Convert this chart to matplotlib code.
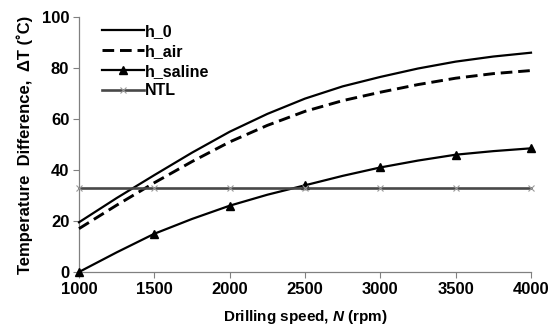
import numpy as np
import matplotlib
matplotlib.use("Agg")
import matplotlib.pyplot as plt

# values (every 250 rpm, markers every 500)
speed = [1000, 1250, 1500, 1750, 2000, 2250, 2500, 2750, 3000, 3250, 3500, 3750, 4000]
h_0 = [19.5, 29, 38, 46.8, 55, 62, 68, 72.8, 76.5, 79.8, 82.5, 84.5, 86]
h_air = [17, 26.2, 35, 43.3, 51, 57.5, 63, 67.2, 70.5, 73.5, 76, 77.8, 79]
h_saline = [0, 7.7, 15, 20.8, 26, 30.3, 34, 37.7, 41, 43.7, 46, 47.4, 48.5]
ntl = [33] * 13

x_ticks = [1000, 1500, 2000, 2500, 3000, 3500, 4000]
y_ticks = [0, 20, 40, 60, 80, 100]

plt.rcParams['font.family'] = ['Liberation Sans', 'DejaVu Sans']
plt.rcParams['font.weight'] = 'bold'
plt.rcParams['mathtext.fontset'] = 'custom'
plt.rcParams['mathtext.bfit'] = 'Liberation Sans:bold:italic'

fig = plt.figure(figsize=(5.52, 3.29), dpi=100)
ax = fig.add_axes([79 / 552, 1 - 272 / 329, (531 - 79) / 552, (272 - 17) / 329])

ax.plot(speed, h_0, color='black', lw=1.6, label='h_0')
ax.plot(speed, h_air, color='black', lw=2.1, ls=(0, (4, 2)), label='h_air')
ax.plot(speed, h_saline, color='black', lw=1.6, marker='^', ms=6,
        markevery=2, label='h_saline')
ax.plot(speed, ntl, color='#484848', lw=1.9, marker='x', ms=5, mec='#999999',
        mew=0.8, markevery=2, label='NTL')

ax.set_xlim(1000, 4000)
ax.set_ylim(0, 100)
ax.set_xticks(x_ticks)
ax.set_yticks(y_ticks)
ax.tick_params(axis='both', direction='out', length=4, color='#808080',
               labelsize=12, pad=3)
for lab in ax.get_xticklabels() + ax.get_yticklabels():
    lab.set_fontweight('bold')

for side in ['top', 'right']:
    ax.spines[side].set_visible(False)
for side in ['left', 'bottom']:
    ax.spines[side].set_color('#808080')
    ax.spines[side].set_linewidth(0.9)
ax.spines['left'].set_zorder(0)
ax.spines['bottom'].set_zorder(0)

ax.set_xlabel('Drilling speed, $\\mathbfit{N}$ (rpm)', fontsize=11, fontweight='bold',
              labelpad=8)
ax.set_ylabel('Temperature  Difference,  \u0394T (\u02daC)', fontsize=12,
              fontweight='bold', labelpad=6)

leg = ax.legend(loc='upper left', bbox_to_anchor=(0.03, 1.01), frameon=False,
                fontsize=11.5, handlelength=2.6, handletextpad=0.1,
                labelspacing=0.3, borderaxespad=0.2)
for t in leg.get_texts():
    t.set_fontweight('bold')

for line in ax.get_lines():
    line.set_clip_on(False)

fig.savefig('out.png', dpi=100)
